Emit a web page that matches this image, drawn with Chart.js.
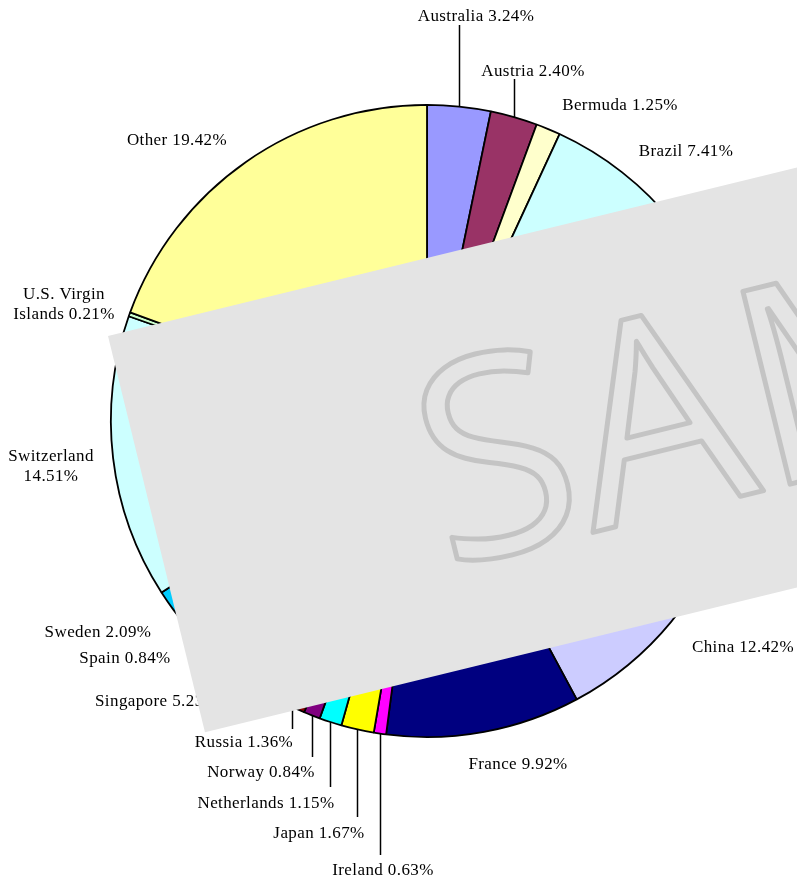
<!DOCTYPE html>
<html>
<head>
<meta charset="utf-8">
<script src="https://cdn.jsdelivr.net/npm/chart.js@4/dist/chart.umd.min.js"></script>
<style>
html, body { margin: 0; padding: 0; background: #fff; }
canvas { display: block; }
</style>
</head>
<body>
<canvas id="pie" width="797" height="881"></canvas>
<script>
// share of holdings by country, clockwise from 12 o'clock
const countries = [
  "Australia", "Austria", "Bermuda", "Brazil", "Canada", "Cayman Islands", "Chile",
  "China", "France", "Ireland", "Japan", "Netherlands", "Norway", "Russia",
  "Singapore", "Spain", "Sweden", "Switzerland", "U.S. Virgin Islands", "Other"
];
const shares = [
  3.24, 2.40, 1.25, 7.41, 8.12, 4.86, 2.46,
  12.42, 9.92, 0.63, 1.67, 1.15, 0.84, 1.36,
  5.23, 0.84, 2.09, 14.51, 0.21, 19.42
];
const sliceColors = [
  "#9999FF", "#993366", "#FFFFCC", "#CCFFFF", "#660066", "#FF8080", "#0066CC",
  "#CCCCFF", "#000080", "#FF00FF", "#FFFF00", "#00FFFF", "#800080", "#800000",
  "#008080", "#0000FF", "#00CCFF", "#CCFFFF", "#CCFFCC", "#FFFF99"
];

// where each label sits (baseline), and whether a leader line runs to the slice
const labelSpots = [
  { x: 476, y: 21, tip: 25 },
  { x: 533, y: 76, tip: 79 },
  { x: 620, y: 110 },
  { x: 686, y: 156 },
  { x: 790, y: 300 },
  { x: 790, y: 420 },
  { x: 790, y: 500 },
  { x: 743, y: 652 },
  { x: 518, y: 769 },
  { x: 383, y: 875, tip: 855 },
  { x: 319, y: 838, tip: 817 },
  { x: 266, y: 808, tip: 787 },
  { x: 261, y: 777, tip: 757 },
  { x: 244, y: 747, tip: 729 },
  { x: 95, y: 706, align: "left" },
  { x: 125, y: 663 },
  { x: 98, y: 637 },
  { x: 51, y: 461, split: 1 },
  { x: 64, y: 299, split: 2 },
  { x: 177, y: 145 }
];

const sliceLabels = {
  id: "sliceLabels",
  afterDatasetsDraw(chart) {
    const ctx = chart.ctx;
    const arcs = chart.getDatasetMeta(0).data;
    ctx.save();
    ctx.font = '17px "Liberation Serif", "Times New Roman", serif';
    ctx.letterSpacing = "0.4px";
    ctx.fillStyle = "#000";
    ctx.strokeStyle = "#000";
    ctx.lineWidth = 1.5;
    ctx.textBaseline = "alphabetic";
    countries.forEach((name, i) => {
      const spot = labelSpots[i];
      const text = name + " " + shares[i].toFixed(2) + "%";
      if (spot.tip !== undefined) {
        const arc = arcs[i];
        const mid = (arc.startAngle + arc.endAngle) / 2;
        const px = Math.round(arc.x + Math.cos(mid) * arc.outerRadius) + 0.5;
        const py = arc.y + Math.sin(mid) * arc.outerRadius;
        ctx.beginPath();
        ctx.moveTo(px, py);
        ctx.lineTo(px, spot.tip);
        ctx.stroke();
      }
      ctx.textAlign = spot.align || "center";
      if (spot.split) {
        const words = text.split(" ");
        ctx.fillText(words.slice(0, spot.split).join(" "), spot.x, spot.y);
        ctx.fillText(words.slice(spot.split).join(" "), spot.x, spot.y + 20);
      } else {
        ctx.fillText(text, spot.x, spot.y);
      }
    });
    ctx.restore();
  }
};

// grey "SAMPLE" band laid over the picture
const sampleBand = {
  id: "sampleBand",
  afterDraw(chart) {
    const ctx = chart.ctx;
    ctx.save();
    ctx.translate(108, 336);
    ctx.rotate(-13.75 * Math.PI / 180);
    ctx.fillStyle = "#E4E4E4";
    ctx.fillRect(0, 0, 1400, 408);
    ctx.font = '278px "Open Sans", sans-serif';
    ctx.textAlign = "left";
    ctx.textBaseline = "alphabetic";
    ctx.lineWidth = 5;
    ctx.lineJoin = "round";
    ctx.strokeStyle = "#C4C4C4";
    ctx.strokeText("SAMPLE", 272, 306);
    ctx.restore();
  }
};

new Chart(document.getElementById("pie"), {
  type: "pie",
  data: {
    labels: countries,
    datasets: [{
      data: shares,
      backgroundColor: sliceColors,
      borderColor: "#000",
      borderWidth: 1.8
    }]
  },
  options: {
    responsive: false,
    animation: false,
    layout: { padding: { left: 110, right: 53, top: 104, bottom: 143 } },
    plugins: {
      legend: { display: false },
      tooltip: { enabled: false }
    }
  },
  plugins: [sliceLabels, sampleBand]
});
</script>
</body>
</html>
